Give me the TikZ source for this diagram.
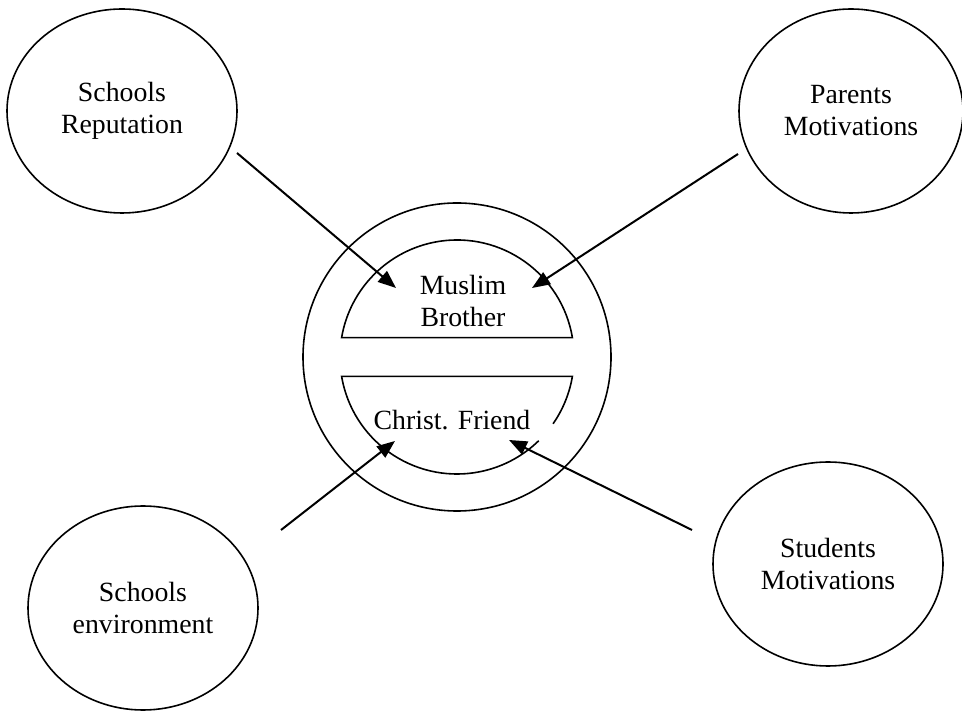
\documentclass[tikz,border=0pt]{standalone}
\usepackage{fontspec}
\setmainfont{Liberation Serif}
\usetikzlibrary{shapes,arrows.meta}

\begin{document}
\begin{tikzpicture}[x=0.5pt, y=0.5pt, factor/.style={ellipse, draw, line width=0.8pt, minimum width=115pt, minimum height=102pt, align=center, font=\fontsize{13.9pt}{16pt}\selectfont}, label node/.style={align=center, font=\fontsize{13.9pt}{16pt}\selectfont}, link/.style={line width=1pt, -{Triangle[length=9pt,width=7pt]}}]
\useasboundingbox (0,0) rectangle (962,711);
\node[factor] (rep) at (122,600) {Schools\\Reputation};
\node[factor, minimum width=112pt] (par) at (851,600) {Parents\\Motivations};
\node[factor] (env) at (143,103) {Schools\\environment};
\node[factor] (stu) at (828,147) {Students\\Motivations};
\node[circle, draw, line width=0.8pt, minimum size=154pt] (outer) at (457,354) {};
\coordinate (hub) at (457,354);
% the two halves
\draw[line width=0.8pt] ([shift={(hub)}]9.5:58.5pt) arc[start angle=9.5, end angle=170.5, radius=58.5pt] -- cycle;
\draw[line width=0.8pt] ([shift={(hub)}]325.2:58.5pt) arc[start angle=325.2, end angle=350.5, radius=58.5pt] -- ([shift={(hub)}]189.5:58.5pt) arc[start angle=189.5, end angle=314.3, radius=58.5pt];
\node[label node] (mus) at (463,410) {Muslim\\Brother};
\node[label node] (chr) at (452,291) {Christ. Friend};
\coordinate (s1) at (237,558);
\coordinate (t1) at (396,423);
\coordinate (s2) at (738,557);
\coordinate (t2) at (532,423);
\coordinate (s3) at (281,181);
\coordinate (t3) at (395,270);
\coordinate (s4) at (692,181);
\coordinate (t4) at (509,271);
\draw[link] (s1) -- (t1);
\draw[link] (s2) -- (t2);
\draw[link] (s3) -- (t3);
\draw[link] (s4) -- (t4);
\end{tikzpicture}
\end{document}
